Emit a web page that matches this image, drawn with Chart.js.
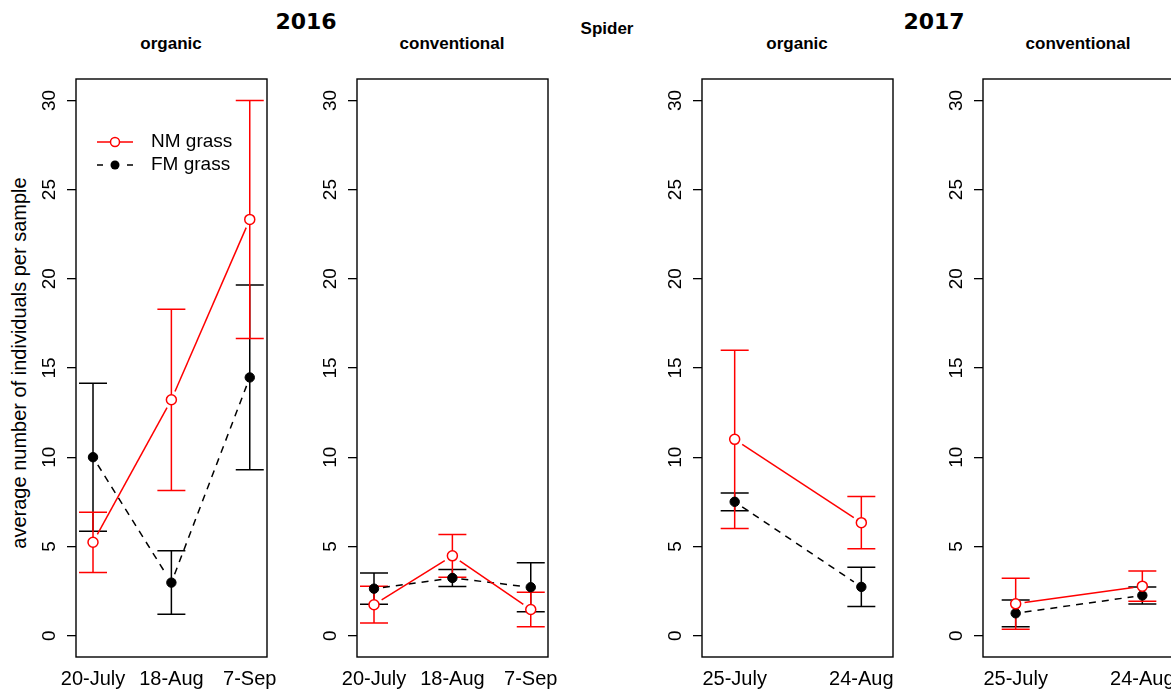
<!DOCTYPE html>
<html lang="en">
<head>
<meta charset="UTF-8" />
<title>Spider</title>
<script src="https://cdn.jsdelivr.net/npm/chart.js"></script>
<style>
  body {
    margin: 0;
    width: 1171px;
    height: 693px;
    overflow: hidden;
    background: #fff;
    position: relative;
    font-family: "Liberation Sans", Arial, sans-serif;
    color: #000;
  }
  canvas { position: absolute; top: 0; }
  .lbl { position: absolute; transform: translate(-50%, -50%); white-space: nowrap; line-height: 1; }
  .year { font-family: "DejaVu Sans", sans-serif; font-weight: bold; font-size: 22px; }
  .sub { font-weight: bold; font-size: 17px; }
  #ytitle { font-size: 20px; transform: translate(-50%, -50%) rotate(-90deg); }
</style>
</head>
<body>
  <!-- Ueberschriften -->
  <div class="lbl year" style="left:306px;top:22px">2016</div>
  <div class="lbl sub" style="left:607px;top:28px">Spider</div>
  <div class="lbl year" style="left:934px;top:22px">2017</div>
  <div class="lbl sub" style="left:171px;top:43px">organic</div>
  <div class="lbl sub" style="left:452px;top:43px">conventional</div>
  <div class="lbl sub" style="left:797px;top:43px">organic</div>
  <div class="lbl sub" style="left:1078px;top:43px">conventional</div>
  <div class="lbl" id="ytitle" style="left:19px;top:363px">average number of individuals per sample</div>

  <canvas id="org2016" width="279" height="693" style="left:0px"></canvas>
  <canvas id="conv2016" width="279" height="693" style="left:281px"></canvas>
  <canvas id="org2017" width="279" height="693" style="left:626px"></canvas>
  <canvas id="conv2017" width="279" height="693" style="left:907px"></canvas>

<script>
// Probenahmetermine
const dates2016 = ["20-July", "18-Aug", "7-Sep"];
const dates2017 = ["25-July", "24-Aug"];
const yTicks = [0, 5, 10, 15, 20, 25, 30];

// Mittelwerte und Fehler (+/-), NM grass / FM grass
const nmOrg2016 = [5.23, 13.22, 23.33];
const nmOrg2016Err = [1.69, 5.08, 6.67];
const fmOrg2016 = [10.0, 2.97, 14.47];
const fmOrg2016Err = [4.15, 1.78, 5.18];

const nmConv2016 = [1.73, 4.47, 1.46];
const nmConv2016Err = [1.03, 1.2, 0.97];
const fmConv2016 = [2.63, 3.23, 2.71];
const fmConv2016Err = [0.88, 0.48, 1.37];

const nmOrg2017 = [11.0, 6.33];
const nmOrg2017Err = [5.0, 1.46];
const fmOrg2017 = [7.5, 2.73];
const fmOrg2017Err = [0.5, 1.1];

const nmConv2017 = [1.78, 2.77];
const nmConv2017Err = [1.43, 0.85];
const fmConv2017 = [1.25, 2.25];
const fmConv2017Err = [0.75, 0.48];

const FONT = '"Liberation Sans", Arial, sans-serif';
const RED = "#ff0000";

// Fehlerbalken mit Querstrichen, schwarz zuerst, rot darueber
const errorBars = {
  id: "errorBars",
  beforeDatasetsDraw(chart) {
    const ctx = chart.ctx;
    const xs = chart.scales.x;
    const ys = chart.scales.y;
    for (let i = chart.data.datasets.length - 1; i >= 0; i--) {
      const ds = chart.data.datasets[i];
      ctx.save();
      ctx.strokeStyle = ds.lineColor;
      ctx.lineWidth = 1.5;
      ds.data.forEach((p, j) => {
        const x = xs.getPixelForValue(p.x);
        const top = ys.getPixelForValue(p.y + ds.err[j]);
        const bot = ys.getPixelForValue(p.y - ds.err[j]);
        ctx.beginPath();
        ctx.moveTo(x, top); ctx.lineTo(x, bot);
        ctx.moveTo(x - 14, top); ctx.lineTo(x + 14, top);
        ctx.moveTo(x - 14, bot); ctx.lineTo(x + 14, bot);
        ctx.stroke();
      });
      ctx.restore();
    }
  },
};

// Verbindungslinien mit Luecke um die Punkte (wie type = "b")
const joinLines = {
  id: "joinLines",
  beforeDatasetDraw(chart, args) {
    const ds = chart.data.datasets[args.index];
    const pts = args.meta.data;
    const ctx = chart.ctx;
    const gap = 9;
    ctx.save();
    ctx.strokeStyle = ds.lineColor;
    ctx.lineWidth = 1.5;
    ctx.setLineDash(ds.dash);
    for (let j = 1; j < pts.length; j++) {
      const a = pts[j - 1];
      const b = pts[j];
      const len = Math.hypot(b.x - a.x, b.y - a.y);
      if (len < 2 * gap) continue;
      const ux = (b.x - a.x) / len;
      const uy = (b.y - a.y) / len;
      ctx.beginPath();
      ctx.moveTo(a.x + ux * gap, a.y + uy * gap);
      ctx.lineTo(b.x - ux * gap, b.y - uy * gap);
      ctx.stroke();
    }
    ctx.restore();
  },
};

// Rahmen um die Zeichenflaeche
const frame = {
  id: "frame",
  afterDraw(chart) {
    const { left, top, width, height } = chart.chartArea;
    const ctx = chart.ctx;
    ctx.save();
    ctx.strokeStyle = "#000";
    ctx.lineWidth = 1.4;
    ctx.strokeRect(left, top, width, height);
    ctx.restore();
  },
};

// Legende im ersten Panel
const seriesKey = {
  id: "seriesKey",
  afterDraw(chart) {
    const ctx = chart.ctx;
    const x0 = chart.chartArea.left;
    const y0 = chart.chartArea.top;
    const y1 = y0 + 63;
    const y2 = y0 + 86;
    ctx.save();
    ctx.lineWidth = 1.5;
    // NM grass
    ctx.strokeStyle = RED;
    ctx.beginPath();
    ctx.moveTo(x0 + 21, y1); ctx.lineTo(x0 + 57, y1);
    ctx.stroke();
    ctx.beginPath();
    ctx.arc(x0 + 39, y1, 4.5, 0, Math.PI * 2);
    ctx.fillStyle = "#fff";
    ctx.fill();
    ctx.stroke();
    // FM grass
    ctx.strokeStyle = "#000";
    ctx.beginPath();
    ctx.moveTo(x0 + 21, y2); ctx.lineTo(x0 + 27, y2);
    ctx.moveTo(x0 + 51, y2); ctx.lineTo(x0 + 57, y2);
    ctx.stroke();
    ctx.beginPath();
    ctx.arc(x0 + 39, y2, 4.5, 0, Math.PI * 2);
    ctx.fillStyle = "#000";
    ctx.fill();
    ctx.fillStyle = "#000";
    ctx.font = "19px " + FONT;
    ctx.textBaseline = "middle";
    ctx.fillText("NM grass", x0 + 75, y1);
    ctx.fillText("FM grass", x0 + 75, y2);
    ctx.restore();
  },
};

function makePanel(id, labels, nm, nmErr, fm, fmErr, xmin, xmax, extra) {
  const ctx = document.getElementById(id).getContext("2d");
  return new Chart(ctx, {
    type: "scatter",
    data: {
      datasets: [
        {
          label: "NM grass",
          data: nm.map((v, i) => ({ x: i + 1, y: v })),
          err: nmErr,
          lineColor: RED,
          dash: [],
          showLine: false,
          pointRadius: 5,
          pointBackgroundColor: "#fff",
          pointBorderColor: RED,
          pointBorderWidth: 1.5,
        },
        {
          label: "FM grass",
          data: fm.map((v, i) => ({ x: i + 1, y: v })),
          err: fmErr,
          lineColor: "#000",
          dash: [7, 6],
          showLine: false,
          pointRadius: 4.7,
          pointBackgroundColor: "#000",
          pointBorderColor: "#000",
          pointBorderWidth: 1,
        },
      ],
    },
    options: {
      responsive: false,
      animation: false,
      events: [],
      layout: { padding: { top: 79, right: 12, left: 0, bottom: 0 } },
      plugins: { legend: { display: false }, tooltip: { enabled: false } },
      scales: {
        x: {
          type: "linear",
          min: xmin,
          max: xmax,
          afterBuildTicks: (s) => { s.ticks = labels.map((_, i) => ({ value: i + 1 })); },
          afterFit: (s) => {
            s.height = 36;
            // kein zusaetzlicher Rand fuer ueberstehende Beschriftungen
            s.paddingLeft = 0;
            s.paddingRight = 0;
          },
          grid: { display: false, drawTicks: false },
          border: { display: false },
          ticks: {
            autoSkip: false,
            maxRotation: 0,
            padding: 10,
            color: "#000",
            font: { family: FONT, size: 20 },
            callback: (v) => labels[Math.round(v) - 1],
          },
        },
        y: {
          type: "linear",
          min: -1.2,
          max: 31.2,
          afterBuildTicks: (s) => { s.ticks = yTicks.map((v) => ({ value: v })); },
          afterFit: (s) => {
            s.width = 76;
            s.paddingTop = 0;
            s.paddingBottom = 0;
          },
          grid: { display: true, drawOnChartArea: false, drawTicks: true, tickLength: 9, color: "#000", lineWidth: 1.3 },
          border: { display: false },
          ticks: {
            minRotation: 90,
            maxRotation: 90,
            crossAlign: "center",
            padding: 7,
            color: "#000",
            font: { family: FONT, size: 19 },
          },
        },
      },
    },
    plugins: [errorBars, joinLines, frame].concat(extra || []),
  });
}

makePanel("org2016", dates2016, nmOrg2016, nmOrg2016Err, fmOrg2016, fmOrg2016Err, 0.783, 3.22, [seriesKey]);
makePanel("conv2016", dates2016, nmConv2016, nmConv2016Err, fmConv2016, fmConv2016Err, 0.783, 3.22);
makePanel("org2017", dates2017, nmOrg2017, nmOrg2017Err, fmOrg2017, fmOrg2017Err, 0.742, 2.25);
makePanel("conv2017", dates2017, nmConv2017, nmConv2017Err, fmConv2017, fmConv2017Err, 0.742, 2.25);
</script>
</body>
</html>
